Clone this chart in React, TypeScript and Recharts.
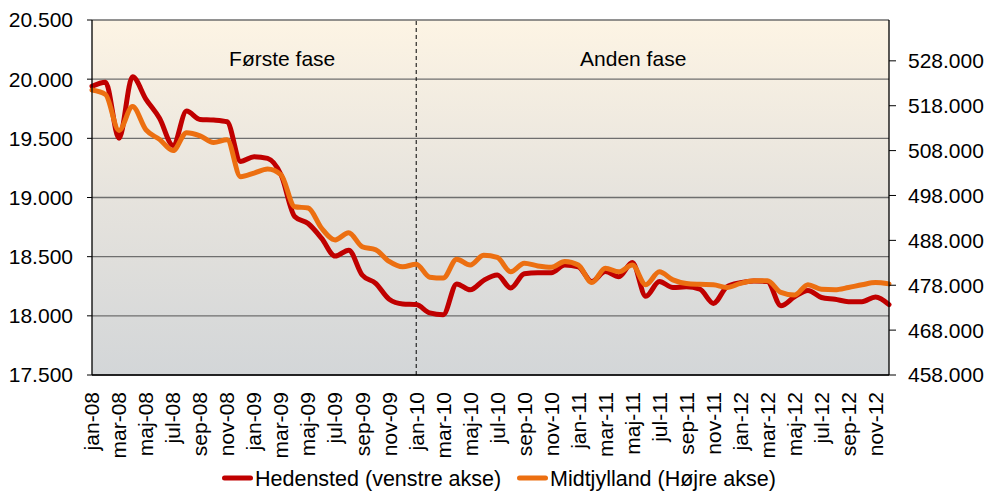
import React from 'react';
import { LineChart, Line, XAxis, YAxis, CartesianGrid, ReferenceLine } from 'recharts';

const monthNames = ['jan', 'feb', 'mar', 'apr', 'maj', 'jun', 'jul', 'aug', 'sep', 'okt', 'nov', 'dec'];
const years = ['08', '09', '10', '11', '12'];
const categories = years.flatMap((y) => monthNames.map((m) => `${m}-${y}`));

const hedensted = [
  19940, 19975, 19500, 20020, 19830, 19670, 19440, 19730, 19660, 19655, 19640, 19305,
  19345, 19330, 19190, 18840, 18780, 18655, 18505, 18555, 18345, 18275, 18140, 18100,
  18095, 18025, 18010, 18270, 18220, 18300, 18345, 18235, 18355, 18365, 18365, 18430,
  18415, 18290, 18375, 18330, 18450, 18165, 18290, 18240, 18245, 18225, 18105, 18245,
  18280, 18295, 18290, 18085, 18160, 18215, 18155, 18140, 18120, 18120, 18160, 18095,
];

const midtjylland = [
  521500, 520500, 512500, 517800, 512600, 510500, 508000, 512000, 511300, 509800, 510400, 502200,
  503000, 503900, 502600, 495500, 495200, 490700, 488100, 489700, 486600, 485900, 483300, 482100,
  482700, 479800, 479600, 483800, 482500, 484700, 484200, 481000, 482900, 482300, 482000, 483300,
  482500, 478600, 481800, 481000, 482500, 478100, 481000, 479200, 478400, 478200, 478100, 477500,
  478400, 479000, 479000, 476400, 475800, 478100, 477100, 477000, 477500, 478100, 478600, 478300,
];

const leftTicks = [17500, 18000, 18500, 19000, 19500, 20000, 20500];
const rightTicks = [458000, 468000, 478000, 488000, 498000, 508000, 518000, 528000];
const leftDomain = [17500, 20500];
const rightDomain = [458000, 537100];
const phaseLabels = ['Første fase', 'Anden fase'];
const phaseBoundary = 'jan-10';
const seriesNames = ['Hedensted (venstre akse)', 'Midtjylland (Højre akse)'];

const RED = '#C00000';
const ORANGE = '#EC6F11';
const FONT = '"Liberation Sans", Arial, Helvetica, sans-serif';
const FS = 21;

const data = categories.map((c, i) => ({
  month: c,
  hedensted: hedensted[i],
  midtjylland: midtjylland[i],
}));

const fmt = (v: number) =>
  Math.round(v)
    .toString()
    .replace(/\B(?=(\d{3})+(?!\d))/g, '.');

const XTick = (props: any) => {
  const { x, y, payload } = props;
  const ty = y + 9;
  return (
    <text
      x={x}
      y={ty}
      transform={`rotate(-90, ${x}, ${ty})`}
      textAnchor="end"
      dy="0.35em"
      fontSize={FS}
      fontFamily={FONT}
      fill="#000"
    >
      {payload.value}
    </text>
  );
};

const PhaseLabels = (props: any) => {
  const vb = props.viewBox || {};
  const x = vb.x ?? 0;
  const y = vb.y ?? 0;
  return (
    <g>
      <text x={x - 134} y={y + 46} textAnchor="middle" fontSize={FS} fontFamily={FONT} fill="#000">
        {phaseLabels[0]}
      </text>
      <text x={x + 217} y={y + 46} textAnchor="middle" fontSize={FS} fontFamily={FONT} fill="#000">
        {phaseLabels[1]}
      </text>
    </g>
  );
};

export default function App() {
  return (
    <div style={{ position: 'absolute', left: 0, top: 0, width: 987, height: 491, background: '#fff' }}>
      <LineChart width={987} height={491} data={data} margin={{ top: 20, right: 0, bottom: 0, left: 0 }}>
        <defs>
          <linearGradient id="plotBg" x1="0" y1="0" x2="0" y2="1">
            <stop offset="0%" stopColor="#FDF4E4" />
            <stop offset="50%" stopColor="#E6E3DD" />
            <stop offset="100%" stopColor="#D3D6D8" />
          </linearGradient>
        </defs>
        <CartesianGrid
          yAxisId="left"
          vertical={false}
          stroke="#6e6e6e"
          strokeWidth={1.3}
          fill="url(#plotBg)"
          fillOpacity={1}
        />
        <XAxis
          dataKey="month"
          interval={1}
          tickLine={false}
          axisLine={{ stroke: '#000', strokeWidth: 1.3 }}
          height={116}
          tick={<XTick />}
        />
        <YAxis
          yAxisId="left"
          domain={leftDomain}
          ticks={leftTicks}
          interval={0}
          allowDataOverflow
          width={92}
          tickSize={5}
          tickMargin={14}
          axisLine={{ stroke: '#000', strokeWidth: 1.3 }}
          tickLine={{ stroke: '#000' }}
          tick={{ fontSize: FS, fill: '#000', fontFamily: FONT }}
          tickFormatter={fmt}
        />
        <YAxis
          yAxisId="right"
          orientation="right"
          domain={rightDomain}
          ticks={rightTicks}
          interval={0}
          allowDataOverflow
          width={98}
          tickSize={7}
          tickMargin={12}
          axisLine={{ stroke: '#000', strokeWidth: 1.3 }}
          tickLine={{ stroke: '#000' }}
          tick={{ fontSize: FS, fill: '#000', fontFamily: FONT }}
          tickFormatter={fmt}
        />
        <ReferenceLine
          yAxisId="left"
          x={phaseBoundary}
          stroke="#000"
          strokeWidth={1}
          strokeDasharray="4 3"
          label={<PhaseLabels />}
        />
        <Line
          yAxisId="left"
          type="monotone"
          dataKey="hedensted"
          stroke={RED}
          strokeWidth={5}
          strokeLinecap="round"
          strokeLinejoin="round"
          dot={false}
          activeDot={false}
          isAnimationActive={false}
        />
        <Line
          yAxisId="right"
          type="monotone"
          dataKey="midtjylland"
          stroke={ORANGE}
          strokeWidth={5}
          strokeLinecap="round"
          strokeLinejoin="round"
          dot={false}
          activeDot={false}
          isAnimationActive={false}
        />
      </LineChart>
      <svg
        width={987}
        height={491}
        style={{ position: 'absolute', left: 0, top: 0, pointerEvents: 'none' }}
      >
        <line x1={224.5} y1={478} x2={250.5} y2={478} stroke={RED} strokeWidth={5} strokeLinecap="round" />
        <text x={255} y={478} dy="0.35em" fontSize={21.5} fontFamily={FONT} fill="#000">
          {seriesNames[0]}
        </text>
        <line x1={519.5} y1={478} x2={545.5} y2={478} stroke={ORANGE} strokeWidth={5} strokeLinecap="round" />
        <text x={550} y={478} dy="0.35em" fontSize={21.5} fontFamily={FONT} fill="#000">
          {seriesNames[1]}
        </text>
      </svg>
    </div>
  );
}
